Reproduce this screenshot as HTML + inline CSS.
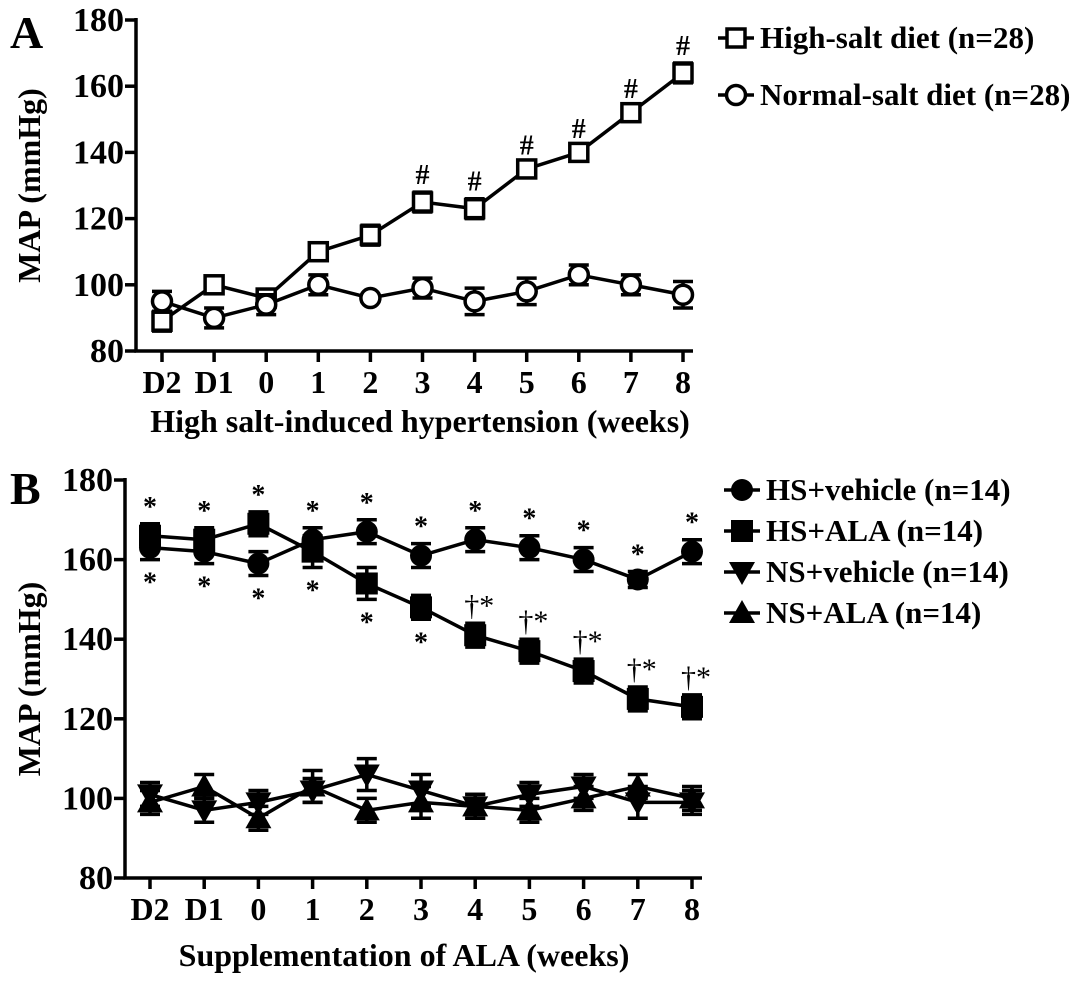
<!DOCTYPE html>
<html><head><meta charset="utf-8"><style>
body{margin:0;background:#fff}
svg{display:block;font-family:"Liberation Serif",serif;font-weight:bold}
</style></head><body>
<svg id="fig" width="1087" height="981" viewBox="0 0 1087 981" xmlns="http://www.w3.org/2000/svg"></svg>
<script>
const cats=["D2","D1","0","1","2","3","4","5","6","7","8"];
const yTicks=[80,100,120,140,160,180];
const aHigh=[89,100,96,110,115,125,123,135,140,152,164];
const aHighErr=[3,2,2,2,3,3,3,2,2,2,3];
const aNormal=[95,90,94,100,96,99,95,98,103,100,97];
const aNormalErr=[3,3,3,3,1,3,4,4,3,3,4];
const aMarks=["","","","","","#","#","#","#","#","#"];
const bHSveh=[163,162,159,165,167,161,165,163,160,155,162];
const bHSvehErr=[3,3,3,3,3,3,3,3,3,2,3];
const bHSala=[166,165,169,162,154,148,141,137,132,125,123];
const bHSalaErr=[3,3,3,4,4,3,3,3,3,3,3];
const bNSveh=[101,97,99,102,106,102,98,101,103,99,99];
const bNSvehErr=[3,3,3,3,4,4,3,3,3,4,3];
const bNSala=[99,103,95,103,97,99,98,97,100,103,100];
const bNSalaErr=[3,3,3,4,3,4,3,3,3,3,3];
const bTopMarks=["*","*","*","*","*","*","*","*","*","*","*"];
const bAlaMarks=["*","*","*","*","*","*","†*","†*","†*","†*","†*"];

const NS="http://www.w3.org/2000/svg";
const svg=document.getElementById('fig');
function mk(tag,attrs,parent){const e=document.createElementNS(NS,tag);for(const k in attrs)e.setAttribute(k,attrs[k]);(parent||svg).appendChild(e);return e;}

function panel(cfg){
  const g=mk('g',{});
  
  
  const yS=v=>cfg.y0+(v-80)/100*(cfg.y1-cfg.y0);
  const xS=i=>cfg.xFirst+i*cfg.dx;
  const ax=mk('path',{d:`M${cfg.ax} ${cfg.y1-2}V${cfg.y0}H${xS(10)+10}`,stroke:'#000','stroke-width':3.5,fill:'none'},g);
  
  
  yTicks.forEach(t=>{
    mk('line',{x1:cfg.ax-11,x2:cfg.ax,y1:yS(t),y2:yS(t),stroke:'#000','stroke-width':3.5},g);
    const tx=mk('text',{x:cfg.ax-12,y:yS(t)+11,'text-anchor':'end','font-size':34},g);
    tx.textContent=t;
    
    
  });
  cats.forEach((c,i)=>{
    mk('line',{x1:xS(i),x2:xS(i),y1:cfg.y0,y2:cfg.y0+11,stroke:'#000','stroke-width':3.5},g);
    const tx=mk('text',{x:xS(i),y:cfg.y0+42,'text-anchor':'middle','font-size':32},g);
    tx.textContent=c;
    
    
  });
  const xt=mk('text',{x:cfg.xtX,y:cfg.xtY,'text-anchor':'middle','font-size':32},g);
  xt.textContent=cfg.xTitle;
  
  
  const ymid=(cfg.y0+cfg.y1)/2;
  const yt=mk('text',{x:0,y:0,'text-anchor':'middle','font-size':32,transform:`translate(${cfg.ytX},${ymid}) rotate(-90)`},g);
  yt.textContent="MAP (mmHg)";
  
  
  const lt=mk('text',{x:cfg.letterX,y:cfg.letterY,'font-size':46},g);
  lt.textContent=cfg.letter;
  
  
  cfg.series.forEach(s=>{
    const sg=mk('g',{},g);
    
    
    const pts=s.vals.map((v,i)=>[xS(i),yS(v)]);
    mk('polyline',{points:pts.map(p=>p.join(',')).join(' '),fill:'none',stroke:'#000','stroke-width':3.5},sg);
    s.vals.forEach((v,i)=>{
      const x=xS(i),e=s.err[i];
      const y1=yS(v+e),y2=yS(v-e);
      mk('path',{d:`M${x} ${y1}V${y2}M${x-10} ${y1}H${x+10}M${x-10} ${y2}H${x+10}`,stroke:'#000','stroke-width':3.5,fill:'none'},sg);
      const m=marker(s.shape,x,yS(v),sg);
      
      
    });
  });
  (cfg.annots||[]).forEach(a=>{
    a.marks.forEach((t,i)=>{
      if(!t)return;
      const v=a.dir>0? a.vals[i]+a.err[i] : a.vals[i]-a.err[i];
      const y=a.dir>0? yS(v)-8 : yS(v)+32;
      const tx=mk('text',{x:xS(i)+(t.length>1?4:0),y:y,'text-anchor':'middle','font-size':t.length>1?30:28,'font-weight':t.length>1?'normal':'bold'},g);
      tx.textContent=t;
      
      
    });
  });
  cfg.legend.forEach((l,k)=>{
    const y=cfg.legY+k*cfg.legDy;
    const lg=mk('g',{},g);
    
    
    mk('line',{x1:cfg.legX,x2:cfg.legX+36,y1:y,y2:y,stroke:'#000','stroke-width':3.5},lg);
    marker(l.shape,cfg.legX+18,y,lg);
    const tx=mk('text',{x:cfg.legX+42,y:y+10,'font-size':31},lg);
    tx.textContent=l.label;
  });
}
function marker(shape,x,y,p){
  switch(shape){
    case 'osq': return mk('rect',{x:x-9,y:y-9,width:18,height:18,fill:'#fff',stroke:'#000','stroke-width':3.5},p);
    case 'ocirc': return mk('circle',{cx:x,cy:y,r:9.5,fill:'#fff',stroke:'#000','stroke-width':3.5},p);
    case 'circ': return mk('circle',{cx:x,cy:y,r:11,fill:'#000'},p);
    case 'sq': return mk('rect',{x:x-11,y:y-11,width:22,height:22,fill:'#000'},p);
    case 'dtri': return mk('path',{d:`M${x-13} ${y-10}H${x+13}L${x} ${y+13}Z`,fill:'#000'},p);
    case 'utri': return mk('path',{d:`M${x-13} ${y+10}H${x+13}L${x} ${y-13}Z`,fill:'#000'},p);
  }
}
panel({name:'panel-a',letter:'A',letterX:10,letterY:48,ax:136,y0:351,y1:20,xFirst:162,dx:52.1,
  xTitle:'High salt-induced hypertension (weeks)',xtX:420,xtY:432,ytX:40,
  series:[{key:'high-salt',vals:aHigh,err:aHighErr,shape:'osq'},{key:'normal-salt',vals:aNormal,err:aNormalErr,shape:'ocirc'}],
  annots:[{marks:aMarks,vals:aHigh,err:aHighErr,dir:1}],
  legX:718,legY:38,legDy:57,legend:[{shape:'osq',label:'High-salt diet (n=28)'},{shape:'ocirc',label:'Normal-salt diet (n=28)'}]});
panel({name:'panel-b',letter:'B',letterX:10,letterY:504,ax:125,y0:878,y1:480,xFirst:150,dx:54.2,
  xTitle:'Supplementation of ALA (weeks)',xtX:404,xtY:966,ytX:40,
  series:[{key:'hs-vehicle',vals:bHSveh,err:bHSvehErr,shape:'circ'},{key:'hs-ala',vals:bHSala,err:bHSalaErr,shape:'sq'},
          {key:'ns-vehicle',vals:bNSveh,err:bNSvehErr,shape:'dtri'},{key:'ns-ala',vals:bNSala,err:bNSalaErr,shape:'utri'}],
  annots:[{marks:bTopMarks,vals:bHSveh.map((v,i)=>Math.max(v,i<3?bHSala[i]:v)),err:bHSvehErr,dir:1},
          {marks:bAlaMarks.map((m,i)=>i<6?m:''),vals:bHSala.map((v,i)=>Math.min(v,bHSveh[i])),err:bHSalaErr,dir:-1},
          {marks:bAlaMarks.map((m,i)=>i>=6?m:''),vals:bHSala,err:bHSalaErr,dir:1}],
  legX:724,legY:490,legDy:41,legend:[{shape:'circ',label:'HS+vehicle (n=14)'},{shape:'sq',label:'HS+ALA (n=14)'},{shape:'dtri',label:'NS+vehicle (n=14)'},{shape:'utri',label:'NS+ALA (n=14)'}]});
</script>
</body></html>
